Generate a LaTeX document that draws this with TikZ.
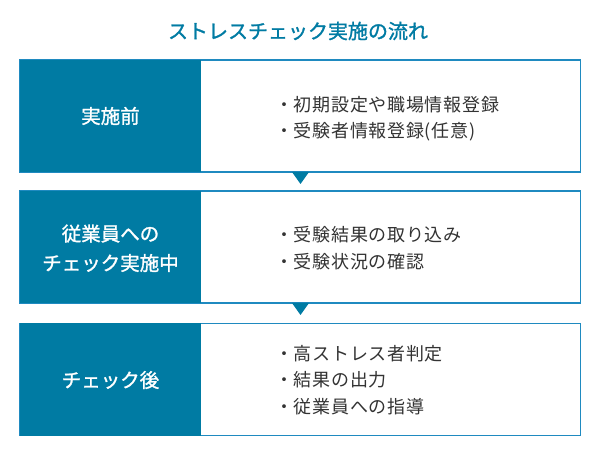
\documentclass[tikz,border=0pt]{standalone}
\usepackage{fontspec}
\setmainfont{Noto Sans CJK JP}
\newfontfamily\jpmed{Noto Sans CJK JP}[FakeBold=1.3]
\usetikzlibrary{calc}
\definecolor{stepblue}{HTML}{007BA3}
\definecolor{frameblue}{HTML}{1F8AC0}
\definecolor{txtgray}{HTML}{333333}
\tikzset{
  framebox/.style={draw=frameblue, line width=1.1pt, fill=white, minimum width=560.5pt, minimum height=112pt, anchor=north west, inner sep=0pt, outer sep=0pt},
  darkcell/.style={fill=stepblue, minimum width=181pt, minimum height=112pt, anchor=north west, inner sep=0pt, outer sep=0pt},
  arrowtri/.style={fill=stepblue},
  titletext/.style={font=\jpmed\fontsize{20}{24}\selectfont, text=stepblue, inner sep=0pt, anchor=base},
  steplabel/.style={font=\jpmed\fontsize{19.5}{23}\selectfont, text=white, inner sep=0pt, anchor=base},
  item/.style={font=\fontsize{18}{21}\selectfont\addfontfeature{LetterSpace=4}, text=txtgray, inner sep=0pt, anchor=base west}
}
\begin{document}
\begin{tikzpicture}[x=1pt,y=-1pt]
\useasboundingbox (0,0) rectangle (600,454);
\fill[white] (0,0) rectangle (600,454);

\node[titletext] (title) at (298,38.6) {ストレスチェック実施の流れ};

% step 1
\node[framebox] (box1) at (20,60) {};
\node[darkcell] (dark1) at (20,60) {};
\node[steplabel] (lab1) at (110.5,123.4) {実施前};
\node[item] (b1a) at (275,111.3) {・初期設定や職場情報登録};
\node[item] (b1b) at (275,137.3) {・受験者情報登録(任意)};

% step 2
\node[framebox] (box2) at (20,191) {};
\node[darkcell] (dark2) at (20,191) {};
\node[steplabel] (lab2a) at (110.5,241) {従業員への};
\node[steplabel] (lab2b) at (110.5,270.4) {チェック実施中};
\node[item] (b2a) at (275,241.3) {・受験結果の取り込み};
\node[item] (b2b) at (275,268.3) {・受験状況の確認};

% step 3
\node[framebox] (box3) at (20,323.5) {};
\node[darkcell] (dark3) at (20,323.5) {};
\node[steplabel] (lab3) at (110.5,387.4) {チェック後};
\node[item] (b3a) at (275,360.3) {・高ストレス者判定};
\node[item] (b3b) at (275,386.8) {・結果の出力};
\node[item] (b3c) at (275,413.3) {・従業員への指導};

% arrows between steps
\fill[arrowtri] (box1.south -| 292,0) -- (box1.south -| 309,0) -- ($(box1.south -| 300.5,0)+(0,12)$) -- cycle;
\fill[arrowtri] (box2.south -| 292,0) -- (box2.south -| 309,0) -- ($(box2.south -| 300.5,0)+(0,12)$) -- cycle;
\end{tikzpicture}
\end{document}
